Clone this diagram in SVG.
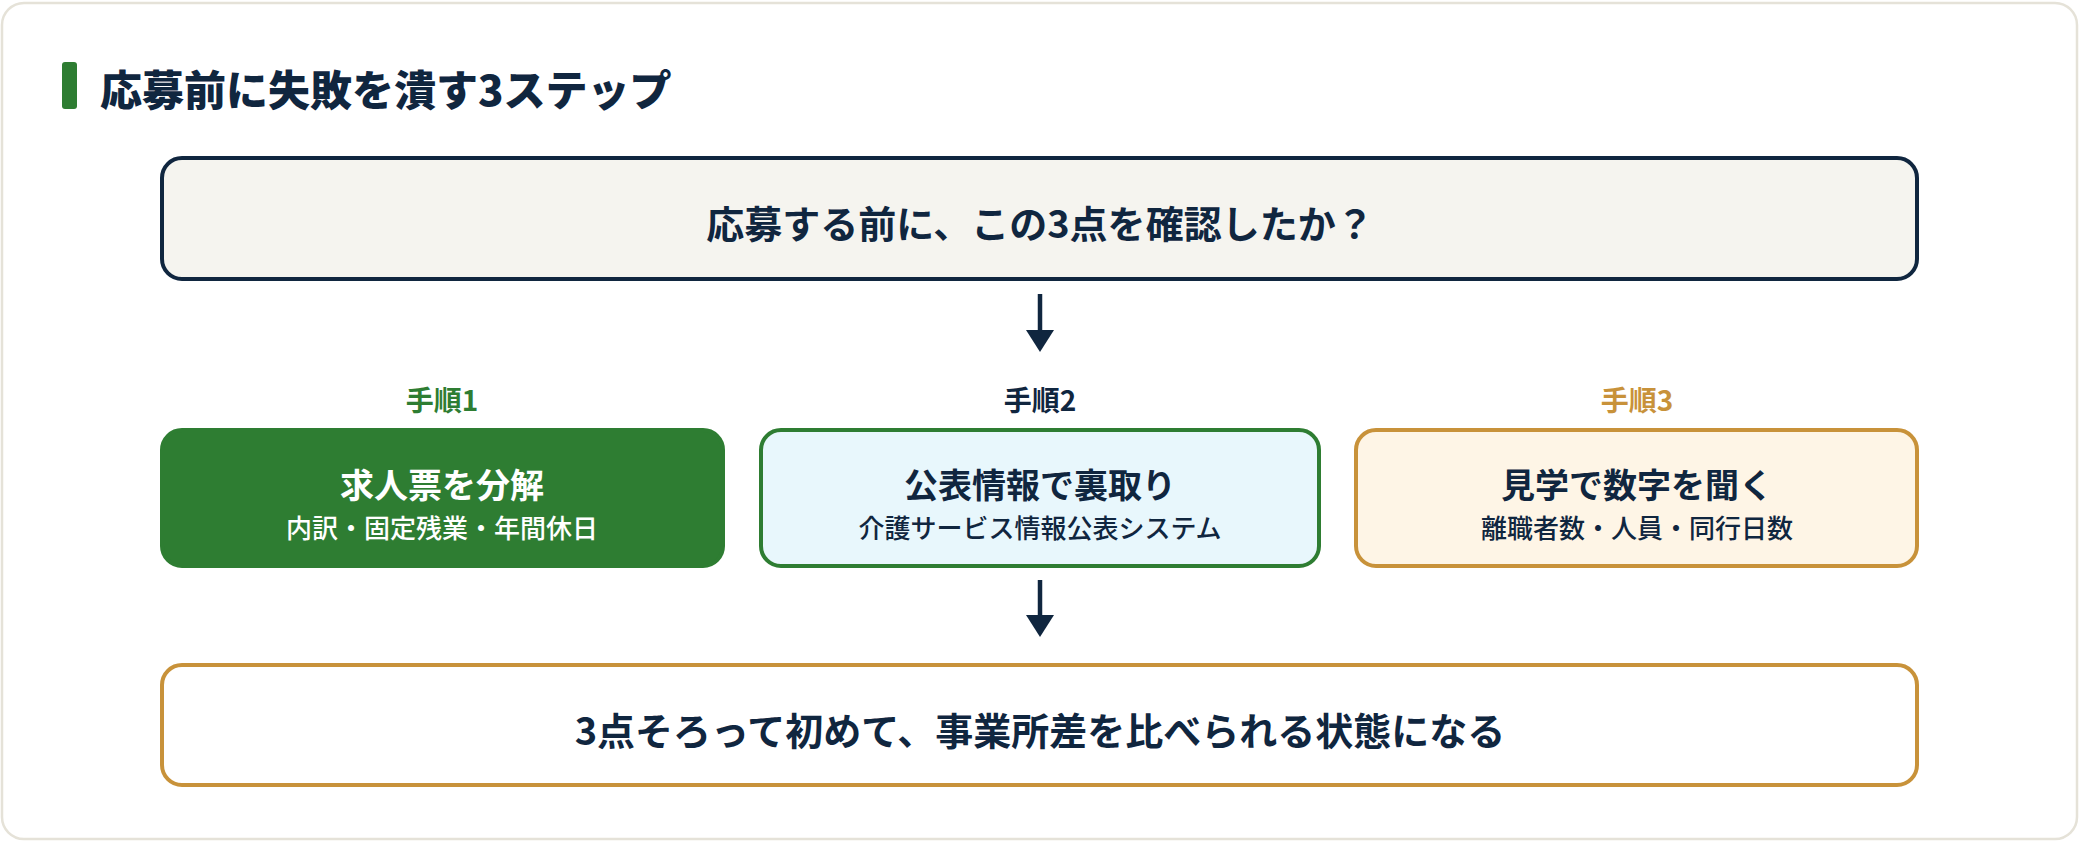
<svg xmlns="http://www.w3.org/2000/svg" width="2080" height="842" viewBox="0 0 2080 842">
<defs>
<style>
text{font-family:"Noto Sans CJK JP","Noto Sans",sans-serif;text-anchor:middle;dominant-baseline:central;}
.b{font-weight:700;}
.navy{fill:#10263f;}
.h{font-size:38px;font-weight:700;fill:#10263f;}
.t{font-size:34px;font-weight:700;}
.s{font-size:26px;font-weight:500;}
.lbl{font-size:28px;font-weight:700;}
.conn{stroke:#10263f;stroke-width:4.5;fill:none;}
</style>
</defs>
<rect x="0" y="0" width="2080" height="842" fill="#ffffff"/>
<rect x="2" y="3" width="2075" height="836" rx="22" fill="#ffffff" stroke="#e5e2d8" stroke-width="2.5"/>
<g id="title">
<rect x="62" y="62" width="15" height="47" rx="3" fill="#2e7d32"/>
<text x="100" y="87" class="navy" style="font-size:42px;font-weight:800;text-anchor:start">応募前に失敗を潰す3ステップ</text>
</g>
<g id="question">
<rect x="162" y="158" width="1755" height="121" rx="20" fill="#f5f4ef" stroke="#10263f" stroke-width="4"/>
<text x="1040" y="221" class="h">応募する前に、この3点を確認したか？</text>
</g>
<g id="connectors">
<path class="conn" d="M1040,294 V331"/>
<path d="M1026,330 L1054,330 L1040,352 Z" fill="#10263f"/>
<path class="conn" d="M1040,580 V616"/>
<path d="M1026,615 L1054,615 L1040,637 Z" fill="#10263f"/>
</g>
<g id="step1">
<text x="442" y="399" class="lbl" fill="#2e7d32">手順1</text>
<rect x="162" y="430" width="561" height="136" rx="20" fill="#2e7d32" stroke="#2e7d32" stroke-width="4"/>
<text x="442" y="483" class="t" fill="#ffffff">求人票を分解</text>
<text x="442" y="526" class="s" fill="#ffffff">内訳・固定残業・年間休日</text>
</g>
<g id="step2">
<text x="1040" y="399" class="lbl navy">手順2</text>
<rect x="761" y="430" width="558" height="136" rx="20" fill="#e8f7fc" stroke="#2e7d32" stroke-width="4"/>
<text x="1040" y="483" class="t navy">公表情報で裏取り</text>
<text x="1040" y="526" class="s navy">介護サービス情報公表システム</text>
</g>
<g id="step3">
<text x="1637" y="399" class="lbl" fill="#c8923a">手順3</text>
<rect x="1356" y="430" width="561" height="136" rx="20" fill="#fef5e6" stroke="#c8923a" stroke-width="4"/>
<text x="1637" y="483" class="t navy">見学で数字を聞く</text>
<text x="1637" y="526" class="s navy">離職者数・人員・同行日数</text>
</g>
<g id="result">
<rect x="162" y="665" width="1755" height="120" rx="20" fill="#ffffff" stroke="#c8923a" stroke-width="4"/>
<text x="1040" y="728" class="h">3点そろって初めて、事業所差を比べられる状態になる</text>
</g>
</svg>
